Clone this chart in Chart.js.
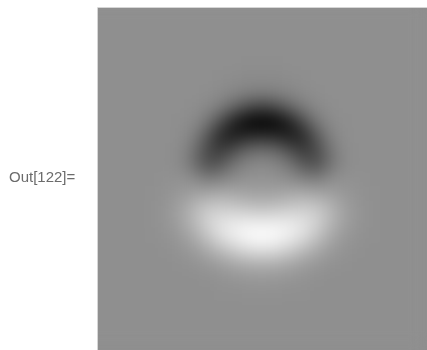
<!DOCTYPE html>
<html>
<head>
<meta charset="utf-8">
<script src="https://cdn.jsdelivr.net/npm/chart.js@4/dist/chart.umd.min.js"></script>
<style>
  html, body { margin: 0; padding: 0; background: #ffffff; }
  #wrap { position: relative; width: 427px; height: 350px; overflow: hidden; }
  #plot { position: absolute; left: 0; top: 0; }
  #outLabel {
    position: absolute; left: 9px; top: 169px;
    font: 15px/15px "Liberation Sans", Arial, Helvetica, sans-serif;
    color: #6b6b6b; white-space: nowrap;
  }
</style>
</head>
<body>
<div id="wrap">
  <canvas id="plot" width="427" height="350"></canvas>
  <div id="outLabel">Out[122]=</div>
</div>
<script>
// Sample grid of the density plot: x runs left to right, y runs top to bottom.
const xValues = [-2, -1.75, -1.5, -1.25, -1, -0.75, -0.5, -0.25, 0, 0.25, 0.5, 0.75, 1, 1.25, 1.5, 1.75, 2];
const yValues = [2, 1.75, 1.5, 1.25, 1, 0.75, 0.5, 0.25, 0, -0.25, -0.5, -0.75, -1, -1.25, -1.5, -1.75, -2];

// Field values: -1 is black, 0 is the neutral grey, +1 is white.
const row_p200 = [0, 0, 0, 0, 0, 0, 0, -0.01, -0.01, -0.01, 0, 0, 0, 0, 0, 0, 0];
const row_p175 = [0, 0, 0, 0, 0, -0.01, -0.02, -0.03, -0.03, -0.03, -0.02, -0.01, 0, 0, 0, 0, 0];
const row_p150 = [0, 0, 0, 0, -0.01, -0.03, -0.06, -0.10, -0.12, -0.10, -0.06, -0.03, -0.01, 0, 0, 0, 0];
const row_p125 = [0, 0, 0, -0.01, -0.04, -0.13, -0.31, -0.49, -0.56, -0.49, -0.31, -0.13, -0.04, -0.01, 0, 0, 0];
const row_p100 = [0, 0, -0.01, -0.03, -0.16, -0.46, -0.79, -0.96, -1, -0.96, -0.79, -0.46, -0.16, -0.03, -0.01, 0, 0];
const row_p075 = [0, 0, -0.01, -0.09, -0.38, -0.73, -0.80, -0.72, -0.70, -0.72, -0.80, -0.73, -0.38, -0.09, -0.01, 0, 0];
const row_p050 = [0, 0, -0.02, -0.18, -0.49, -0.60, -0.44, -0.27, -0.23, -0.27, -0.44, -0.60, -0.49, -0.18, -0.02, 0, 0];
const row_p025 = [0, 0, -0.03, -0.20, -0.45, -0.38, -0.17, -0.06, -0.03, -0.06, -0.17, -0.38, -0.45, -0.20, -0.03, 0, 0];
const row_000  = [0, 0.02, 0.03, -0.02, -0.13, -0.09, -0.02, 0.03, 0.04, 0.03, -0.02, -0.09, -0.13, -0.02, 0.03, 0.02, 0];
const row_m025 = [0.01, 0.03, 0.08, 0.14, 0.19, 0.23, 0.21, 0.16, 0.16, 0.16, 0.21, 0.23, 0.19, 0.14, 0.08, 0.03, 0.01];
const row_m050 = [0.01, 0.05, 0.15, 0.34, 0.50, 0.53, 0.50, 0.45, 0.42, 0.45, 0.50, 0.53, 0.50, 0.34, 0.15, 0.05, 0.01];
const row_m075 = [0.01, 0.05, 0.16, 0.36, 0.60, 0.74, 0.80, 0.81, 0.81, 0.81, 0.80, 0.74, 0.60, 0.36, 0.16, 0.05, 0.01];
const row_m100 = [0.01, 0.03, 0.09, 0.24, 0.47, 0.72, 0.87, 0.97, 1, 0.97, 0.87, 0.72, 0.47, 0.24, 0.09, 0.03, 0.01];
const row_m125 = [0, 0.01, 0.04, 0.11, 0.24, 0.40, 0.56, 0.69, 0.73, 0.69, 0.56, 0.40, 0.24, 0.11, 0.04, 0.01, 0];
const row_m150 = [0, 0, 0.01, 0.03, 0.07, 0.13, 0.21, 0.27, 0.29, 0.27, 0.21, 0.13, 0.07, 0.03, 0.01, 0, 0];
const row_m175 = [0, 0, 0, 0, 0.01, 0.03, 0.05, 0.07, 0.08, 0.07, 0.05, 0.03, 0.01, 0, 0, 0, 0];
const row_m200 = [0, 0, 0, 0, 0, 0.01, 0.01, 0.02, 0.02, 0.02, 0.01, 0.01, 0, 0, 0, 0, 0];

const zRows = [row_p200, row_p175, row_p150, row_p125, row_p100, row_p075, row_p050, row_p025,
               row_000, row_m025, row_m050, row_m075, row_m100, row_m125, row_m150, row_m175, row_m200];

const BG_LEVEL = 143;
const BG = `rgb(${BG_LEVEL},${BG_LEVEL},${BG_LEVEL})`;
const STEP = 0.25;

function greyFor(z) {
  const v = z >= 0 ? BG_LEVEL + (255 - BG_LEVEL) * z : BG_LEVEL + BG_LEVEL * z;
  const g = Math.round(Math.max(0, Math.min(255, v)));
  return `rgb(${g},${g},${g})`;
}

const cells = [];
zRows.forEach((row, i) => {
  row.forEach((z, j) => cells.push({ x: xValues[j], y: yValues[i], z }));
});

// Neutral plot background, smoothing of the sampled cells, and the thin frame edge.
const densityLook = {
  id: 'densityLook',
  beforeDatasetsDraw(chart) {
    const { ctx, chartArea: a } = chart;
    ctx.save();
    ctx.fillStyle = BG;
    ctx.fillRect(a.left, a.top, a.right - a.left, a.bottom - a.top);
    ctx.restore();
  },
  afterDatasetsDraw(chart) {
    const { ctx, canvas, chartArea: a } = chart;
    const w = a.right - a.left, h = a.bottom - a.top;
    const off = document.createElement('canvas');
    off.width = canvas.width; off.height = canvas.height;
    const o = off.getContext('2d');
    o.fillStyle = BG;
    o.fillRect(0, 0, off.width, off.height);
    o.drawImage(canvas, a.left, a.top, w, h, a.left, a.top, w, h);
    ctx.save();
    ctx.beginPath();
    ctx.rect(a.left, a.top, w, h);
    ctx.clip();
    ctx.filter = 'blur(8px)';
    ctx.drawImage(off, 0, 0);
    ctx.restore();
  },
  afterDraw(chart) {
    const { ctx, chartArea: a } = chart;
    ctx.save();
    ctx.strokeStyle = '#d6d6d6';
    ctx.lineWidth = 1;
    ctx.beginPath();
    ctx.moveTo(a.left - 0.5, a.bottom);
    ctx.lineTo(a.left - 0.5, a.top - 0.5);
    ctx.lineTo(a.right, a.top - 0.5);
    ctx.stroke();
    ctx.restore();
  }
};

new Chart(document.getElementById('plot'), {
  type: 'scatter',
  data: {
    datasets: [{
      data: cells,
      pointStyle: 'rect',
      pointBorderWidth: 0,
      borderWidth: 0,
      pointRadius: (c) => {
        const ys = c.chart.scales.y;
        const cellPx = Math.abs(ys.getPixelForValue(0) - ys.getPixelForValue(STEP));
        return cellPx / Math.SQRT2 + 0.6;
      },
      pointHoverRadius: 0,
      backgroundColor: (c) => greyFor(c.raw ? c.raw.z : 0),
      pointBackgroundColor: (c) => greyFor(c.raw ? c.raw.z : 0)
    }]
  },
  options: {
    responsive: false,
    animation: false,
    events: [],
    layout: { padding: { left: 98, top: 8, right: 0, bottom: 0 } },
    scales: {
      x: { type: 'linear', min: -3, max: 3, display: false },
      y: { type: 'linear', min: -3, max: 3, display: false }
    },
    plugins: {
      legend: { display: false },
      tooltip: { enabled: false }
    }
  },
  plugins: [densityLook]
});
</script>
</body>
</html>
